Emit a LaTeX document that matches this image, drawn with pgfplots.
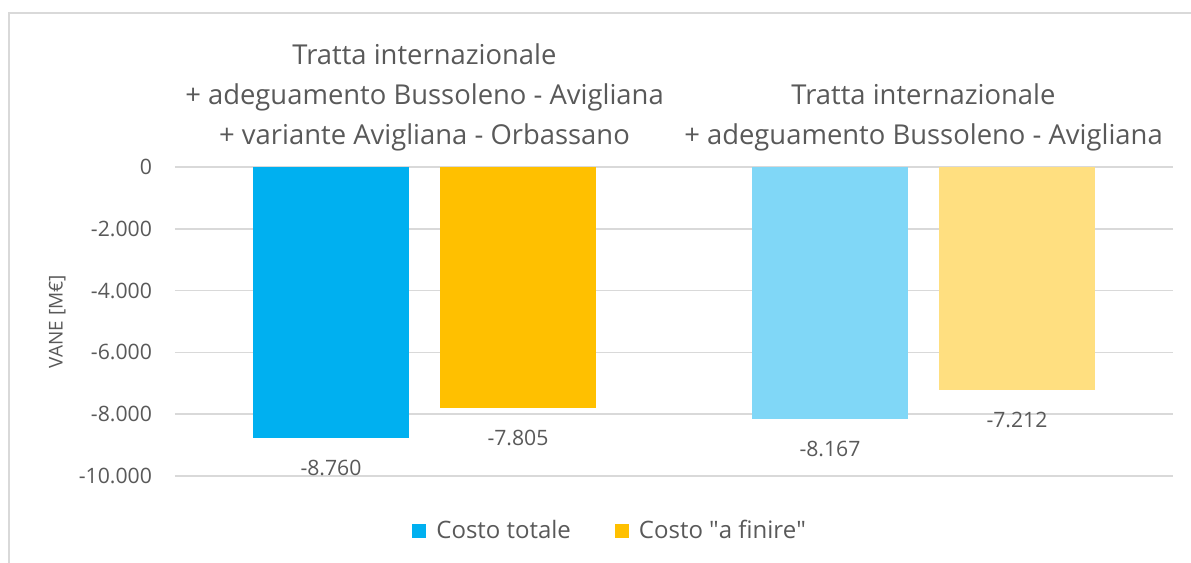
\documentclass[border=0pt]{standalone}
\usepackage{fontspec}
\setmainfont{Open Sans}
\newfontfamily\plainquote{Open Sans}
\usepackage{pgfplots}
\pgfplotsset{compat=1.18}

\definecolor{txt}{HTML}{595959}
\definecolor{gridc}{HTML}{D9D9D9}
\definecolor{cblue}{HTML}{00B0F0}
\definecolor{cyel}{HTML}{FFC000}
\definecolor{cbluel}{HTML}{80D7F7}
\definecolor{cyell}{HTML}{FFDF80}

\begin{document}
\begin{tikzpicture}
\useasboundingbox (0,0) rectangle (595.5pt,281.5pt);
% chart frame (cut at right and bottom)
\draw[gridc, line width=1pt] (4.25pt,0) -- (4.25pt,275pt) -- (595.5pt,275pt);
\begin{axis}[
  at={(87.5pt,43.5pt)}, anchor=south west,
  width=499pt, height=154.5pt, scale only axis,
  ybar, bar width=78pt,
  xmin=-0.5, xmax=1.5,
  ymin=-10000, ymax=0,
  xtick={0,1},
  xticklabels={{Tratta internazionale\\+ adeguamento Bussoleno - Avigliana\\+ variante Avigliana - Orbassano},
               {Tratta internazionale\\+ adeguamento Bussoleno - Avigliana}},
  xticklabel pos=upper,
  xticklabel style={align=center, font=\fontsize{13.7}{20}\selectfont, text=txt},
  ytick={-10000,-8000,-6000,-4000,-2000,0},
  scaled y ticks=false,
  yticklabel style={font=\fontsize{10.6}{13}\selectfont, text=txt, xshift=-8pt},
  ymajorgrids, grid style={gridc, line width=0.75pt},
  axis line style={draw=none}, tick style={draw=none},
  ylabel={VANE [M€]},
  ylabel style={at={(axis description cs:-0.118,0.5)}, anchor=center,
                font=\fontsize{9.5}{11}\selectfont, text=txt},
  /pgf/number format/.cd, 1000 sep={.}, assume math mode=true,
  /pgfplots/.cd,
  nodes near coords,
  nodes near coords style={font=\fontsize{10.6}{13}\selectfont, text=txt,
                           anchor=center, yshift=-15pt},
  legend style={at={(axis description cs:0.437,-0.178)}, anchor=center,
                draw=none, fill=none, legend columns=2,
                font=\fontsize{12}{14}\selectfont, text=txt,
                /tikz/every even column/.append style={column sep=20pt}},
  legend image code/.code={\fill[#1] (0pt,-3.5pt) rectangle (7pt,3.5pt); \path (10pt,0pt);},
]
\addplot[fill=cblue, draw=none, bar shift=-46.75pt] coordinates {(0,-8760)};
\addlegendentry{Costo totale}
\addplot[fill=cyel, draw=none, bar shift=46.75pt] coordinates {(0,-7805)};
\addlegendentry{Costo {\plainquote "}a finire{\plainquote "}}
\addplot[fill=cbluel, draw=none, bar shift=-46.75pt, forget plot] coordinates {(1,-8167)};
\addplot[fill=cyell, draw=none, bar shift=46.75pt, forget plot] coordinates {(1,-7212)};
\end{axis}
\end{tikzpicture}
\end{document}
